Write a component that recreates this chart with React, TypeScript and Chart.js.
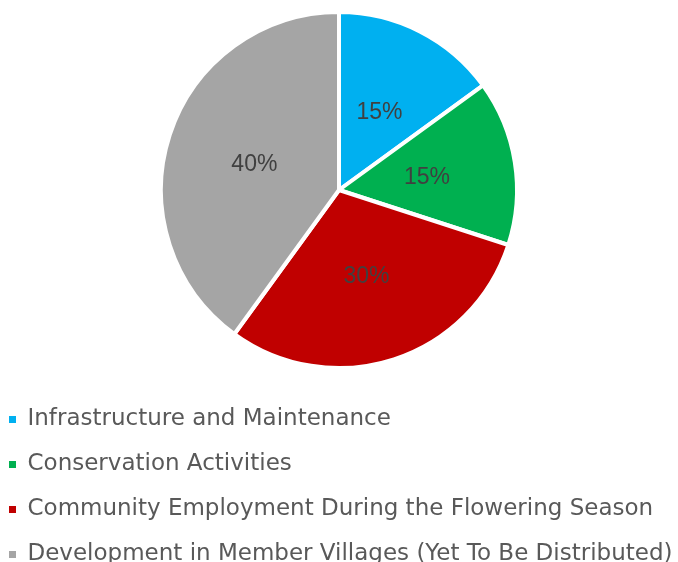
import React, { useEffect, useRef } from "react";
import { Chart, registerables } from "chart.js";

Chart.register(...registerables);

const categories = [
  "Infrastructure and Maintenance",
  "Conservation Activities",
  "Community Employment During the Flowering Season",
  "Development in Member Villages (Yet To Be Distributed)",
];
const shares = [15, 15, 30, 40];
const colors = ["#00B0F0", "#00B050", "#C00000", "#A5A5A5"];

const sliceLabels = {
  id: "sliceLabels",
  afterDatasetsDraw(chart: any) {
    const ctx = chart.ctx;
    const meta = chart.getDatasetMeta(0);
    const data = chart.data.datasets[0].data as number[];
    ctx.save();
    ctx.font = "23px 'Liberation Sans', Arial, sans-serif";
    ctx.fillStyle = "#404040";
    ctx.textAlign = "center";
    ctx.textBaseline = "middle";
    meta.data.forEach((arc: any, i: number) => {
      const p = arc.getCenterPoint();
      ctx.fillText(data[i] + "%", p.x, p.y + 2);
    });
    ctx.restore();
  },
};

export default function App() {
  const ref = useRef<HTMLCanvasElement | null>(null);
  useEffect(() => {
    if (!ref.current) return;
    const base = (Chart as any).overrides.pie.plugins.legend.labels.generateLabels;
    const chart = new Chart(ref.current, {
      type: "pie",
      data: {
        labels: categories,
        datasets: [
          {
            data: shares,
            backgroundColor: colors,
            borderColor: "#ffffff",
            borderWidth: 4,
            radius: 178,
          } as any,
        ],
      },
      options: {
        animation: false,
        responsive: true,
        maintainAspectRatio: false,
        layout: { padding: 0 },
        plugins: {
          tooltip: { enabled: false },
          legend: {
            position: "bottom",
            align: "start",
            labels: {
              boxWidth: 7,
              boxHeight: 7,
              padding: 22,
              color: "#595959",
              font: { family: "'DejaVu Sans', sans-serif", size: 23 },
              generateLabels: (c: any) =>
                base(c).map((l: any) => ({ ...l, lineWidth: 0 })),
            },
          },
        },
      },
      plugins: [sliceLabels],
    });
    return () => chart.destroy();
  }, []);
  return (
    <div
      style={{
        position: "fixed",
        left: 0,
        top: 0,
        width: 678,
        height: 562,
        overflow: "hidden",
        background: "#ffffff",
      }}
    >
      <div style={{ position: "absolute", left: -13, top: -6, width: 704, height: 582 }}>
        <canvas ref={ref} />
      </div>
    </div>
  );
}
